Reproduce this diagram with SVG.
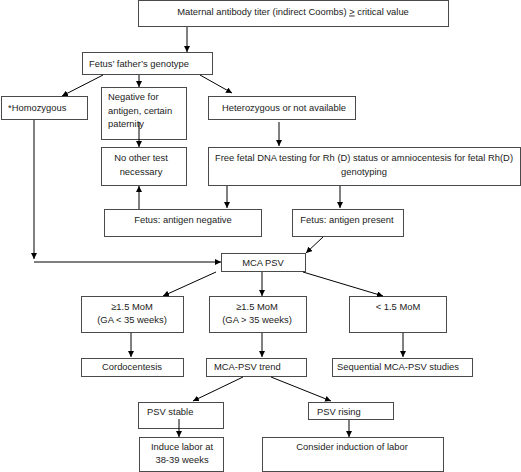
<svg xmlns="http://www.w3.org/2000/svg" width="521" height="472" viewBox="0 0 521 472">
<defs>
<marker id="ah" viewBox="0 0 10 10" refX="10" refY="5" markerWidth="6" markerHeight="6" orient="auto" markerUnits="userSpaceOnUse">
<path d="M0,0 L10,5 L0,10 z" fill="#000"/>
</marker>
</defs>
<style>
rect{fill:#fff;stroke:#4a4a4a;stroke-width:1}
text{font-family:"Liberation Sans",Arial,sans-serif;font-size:9.4px;fill:#222}
.c{text-anchor:middle}
.conn line,.conn polyline{stroke:#000;stroke-width:1;fill:none;marker-end:url(#ah)}
</style>
<rect x="0" y="0" width="521" height="472" style="fill:#fff;stroke:none"/>
<g id="n-maternal"><rect x="138.5" y="0.5" width="310" height="26"/><text class="c" x="293" y="14.5">Maternal antibody titer (indirect Coombs) <tspan text-decoration="underline">&gt;</tspan> critical value</text></g>
<g id="n-father"><rect x="82.5" y="52.5" width="130" height="22"/><text x="89" y="67">Fetus’ father’s genotype</text></g>
<g id="n-homo"><rect x="1.5" y="96.5" width="86" height="23"/><text x="8" y="111">*Homozygous</text></g>
<g id="n-negative"><rect x="101.5" y="87.5" width="85" height="52"/><text x="108" y="100">Negative for</text><text x="108" y="114">antigen, certain</text><text x="108" y="127">paternity</text></g>
<g id="n-hetero"><rect x="208.5" y="96.5" width="147" height="23"/><text class="c" x="284" y="111">Heterozygous or not available</text></g>
<g id="n-noother"><rect x="101.5" y="147.5" width="85" height="38"/><text class="c" x="141" y="161">No other test</text><text class="c" x="141" y="175">necessary</text></g>
<g id="n-ffdna"><rect x="208.5" y="147.5" width="312" height="38"/><text class="c" x="364" y="161">Free fetal DNA testing for Rh (D) status or amniocentesis for fetal Rh(D)</text><text class="c" x="364" y="175">genotyping</text></g>
<g id="n-fneg"><rect x="104.5" y="209.5" width="157" height="27"/><text class="c" x="183" y="223">Fetus: antigen negative</text></g>
<g id="n-fpos"><rect x="292.5" y="209.5" width="111" height="27"/><text class="c" x="347" y="223">Fetus: antigen present</text></g>
<g id="n-mcapsv"><rect x="221.5" y="253.5" width="84" height="18"/><text class="c" x="263" y="266">MCA PSV</text></g>
<g id="n-ge35lt"><rect x="81.5" y="296.5" width="102" height="36"/><text class="c" x="132" y="310">≥1.5 MoM</text><text class="c" x="132" y="323">(GA &lt; 35 weeks)</text></g>
<g id="n-ge35gt"><rect x="209.5" y="296.5" width="97" height="36"/><text class="c" x="257" y="310">≥1.5 MoM</text><text class="c" x="257" y="323">(GA &gt; 35 weeks)</text></g>
<g id="n-lt15"><rect x="349.5" y="296.5" width="97" height="36"/><text class="c" x="398" y="310">&lt; 1.5 MoM</text></g>
<g id="n-cordo"><rect x="81.5" y="358.5" width="102" height="18"/><text class="c" x="132" y="370">Cordocentesis</text></g>
<g id="n-trend"><rect x="206.5" y="358.5" width="100" height="18"/><text x="214" y="370">MCA-PSV trend</text></g>
<g id="n-seq"><rect x="332.5" y="358.5" width="140" height="18"/><text class="c" x="398" y="370">Sequential MCA-PSV studies</text></g>
<g id="n-stable"><rect x="138.5" y="402.5" width="85" height="26"/><text x="147" y="415">PSV stable</text></g>
<g id="n-rising"><rect x="308.5" y="402.5" width="85" height="17"/><text x="317" y="415">PSV rising</text></g>
<g id="n-induce"><rect x="139.5" y="437.5" width="84" height="34"/><text class="c" x="182" y="450">Induce labor at</text><text class="c" x="182" y="463">38-39 weeks</text></g>
<g id="n-consider"><rect x="262.5" y="437.5" width="181" height="34"/><text class="c" x="352" y="450">Consider induction of labor</text></g>
<g id="connectors" class="conn">
<line x1="187" y1="27" x2="187" y2="52"/>
<line x1="103" y1="75" x2="62" y2="96"/>
<line x1="139" y1="75" x2="139" y2="87"/>
<line x1="200" y1="75" x2="232" y2="93"/>
<line x1="139" y1="122" x2="139" y2="147"/>
<line x1="279" y1="122" x2="279" y2="146"/>
<line x1="227" y1="186" x2="227" y2="208"/>
<line x1="139" y1="209" x2="139" y2="186"/>
<line x1="340" y1="186" x2="340" y2="208"/>
<line x1="323" y1="237" x2="306" y2="253"/>
<line x1="34" y1="120" x2="34" y2="259"/>
<polyline points="34,262 221,262"/>
<line x1="216" y1="272" x2="163" y2="296"/>
<line x1="262" y1="272" x2="262" y2="296"/>
<line x1="303" y1="272" x2="383" y2="296"/>
<line x1="131" y1="333" x2="131" y2="357"/>
<line x1="262" y1="333" x2="262" y2="357"/>
<line x1="403" y1="333" x2="403" y2="357"/>
<line x1="243" y1="377" x2="193" y2="401"/>
<line x1="271" y1="377" x2="331" y2="401"/>
<line x1="179" y1="419" x2="179" y2="437"/>
<line x1="349" y1="420" x2="349" y2="437"/>
</g>
</svg>
